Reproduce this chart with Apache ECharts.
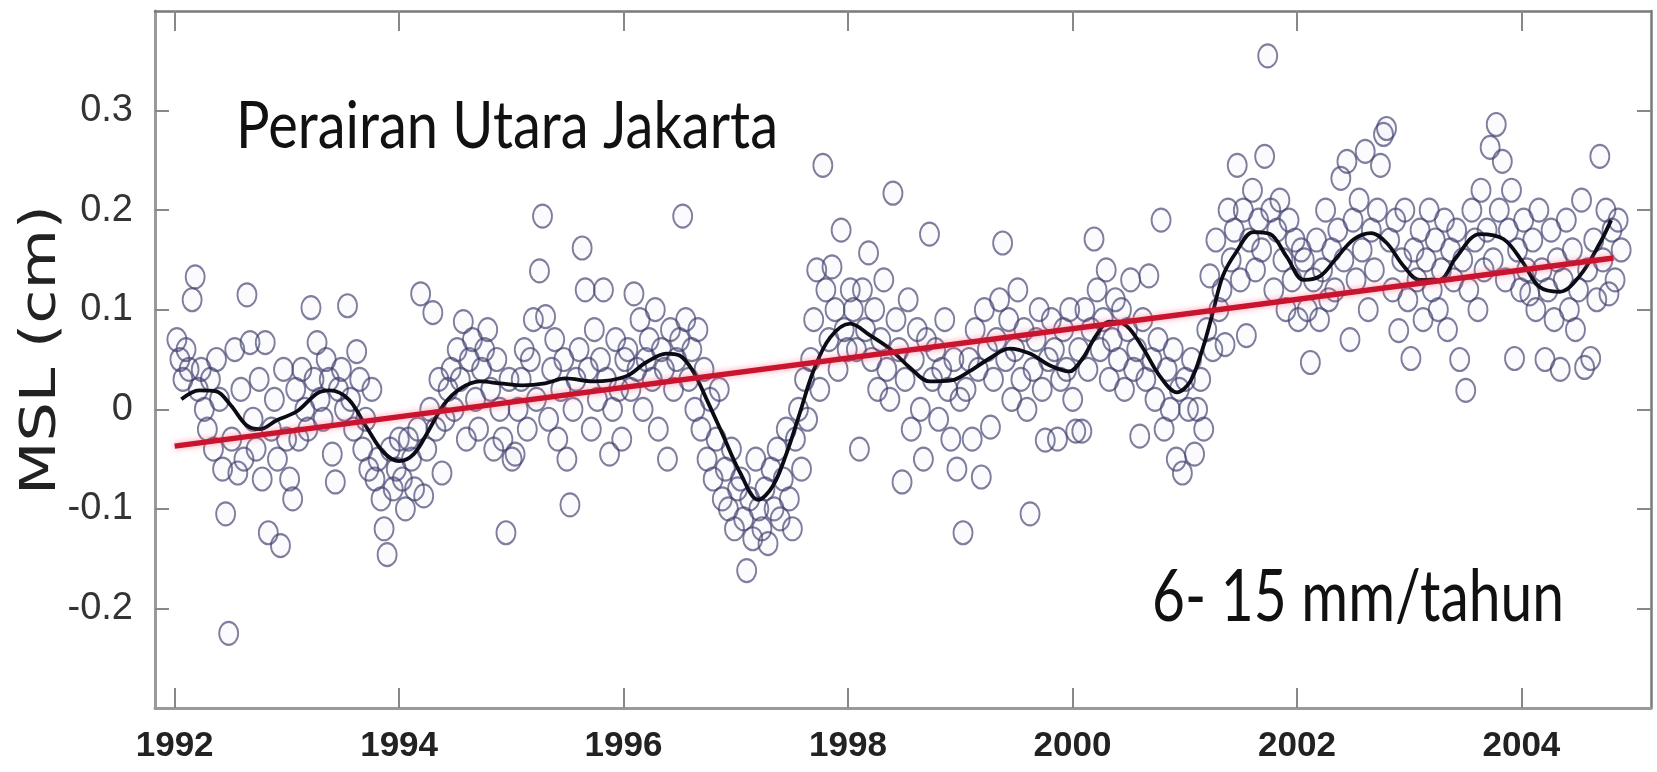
<!DOCTYPE html>
<html>
<head>
<meta charset="utf-8">
<title>MSL Perairan Utara Jakarta</title>
<script src="https://cdn.jsdelivr.net/npm/echarts@6/dist/echarts.min.js"></script>
<style>
  html, body { margin: 0; padding: 0; background: #fff; }
  #chart { width: 1657px; height: 772px; }
</style>
</head>
<body>
<div id="chart"></div>
<script>
// altimetry cycles, ~9.92 days apart
const cycleStart = 1992.02
const cycleStep = 0.02715

// MSL per cycle (one row ~ one year)
const mslValues = [
  0.07, 0.05, 0.03, 0.06, 0.04, 0.11, 0.133, 0.02, 0.04, 0.0, -0.02, 0.03, -0.04, 0.05, 0.01, -0.06, -0.105, -0.225, -0.03, 0.06, -0.064, 0.02, -0.05, 0.115, 0.067, -0.01, -0.04, 0.03, -0.07, 0.067, -0.124, -0.02, 0.01, -0.05, -0.137, 0.04, -0.03,
  -0.07, -0.09, 0.02, -0.03, 0.04, 0.0, -0.02, 0.102, 0.03, 0.067, 0.01, -0.01, 0.05, 0.03, -0.045, -0.073, 0.02, 0.04, 0.0, 0.104, 0.01, -0.02, 0.058, 0.03, -0.04, -0.01, -0.06, 0.02, -0.07, -0.05, -0.09, -0.12, -0.146, -0.04, -0.08, -0.06, -0.03,
  -0.07, -0.1, -0.03, -0.05, -0.08, -0.02, 0.116, -0.087, -0.04, 0.0, 0.097, -0.02, 0.03, -0.064, -0.01, 0.02, 0.04, 0.0, 0.06, 0.03, 0.088, -0.03, 0.05, 0.07, 0.01, -0.02, 0.04, 0.06, 0.08, 0.02, -0.04, 0.05, 0.0, -0.03, -0.124, 0.03, -0.05,
  -0.045, 0.0, 0.03, 0.06, -0.02, 0.05, 0.09, 0.01, 0.139, 0.194, 0.093, -0.01, 0.04, 0.07, -0.03, 0.02, 0.05, -0.05, -0.096, 0.0, 0.03, 0.06, 0.162, 0.12, 0.04, -0.02, 0.08, 0.01, 0.05, 0.12, 0.03, -0.045, 0.0, 0.07, 0.02, -0.03, 0.05,
  0.06, 0.02, 0.116, 0.04, 0.09, 0.0, 0.05, 0.07, 0.03, 0.1, -0.02, 0.06, 0.04, -0.05, 0.08, 0.02, 0.05, 0.07, 0.194, 0.09, 0.03, 0.06, 0.0, 0.08, -0.02, 0.04, -0.05, 0.01, -0.07, -0.03, 0.02, -0.09, -0.06, -0.1, -0.04, -0.12, -0.08,
  -0.07, -0.11, -0.162, -0.09, -0.13, -0.05, -0.1, -0.12, -0.08, -0.135, -0.06, -0.1, -0.04, -0.11, -0.07, -0.02, -0.09, -0.12, -0.03, 0.0, -0.06, 0.03, -0.01, 0.05, 0.09, 0.14, 0.02, 0.245, 0.12, 0.07, 0.143, 0.1, 0.04, 0.18, 0.08, 0.06, 0.12,
  0.1, 0.06, -0.04, 0.12, 0.08, 0.157, 0.05, 0.1, 0.02, 0.07, 0.13, 0.04, 0.01, 0.217, 0.09, 0.06, -0.073, 0.03, 0.11, -0.02, 0.05, 0.08, 0.0, -0.05, 0.07, 0.176, 0.03, 0.06, -0.01, 0.04, 0.09, 0.02, -0.03, 0.05, -0.06, 0.01, -0.124,
  0.02, 0.05, -0.03, 0.08, 0.04, -0.068, 0.1, 0.06, -0.018, 0.03, 0.07, 0.11, 0.167, 0.05, 0.09, 0.01, 0.06, 0.12, 0.03, 0.08, 0.0, -0.105, 0.04, 0.07, 0.1, 0.02, -0.031, 0.05, 0.09, 0.06, -0.03, 0.03, 0.08, 0.04, 0.1, 0.01, -0.022,
  0.06, -0.022, 0.1, 0.04, 0.08, 0.171, 0.12, 0.06, 0.09, 0.14, 0.03, 0.07, 0.11, 0.05, 0.1, 0.02, 0.08, 0.13, 0.04, 0.06, -0.027, 0.09, 0.03, 0.134, 0.05, 0.01, 0.07, 0.19, -0.02, 0.04, 0.0, 0.06, -0.05, 0.02, -0.064, 0.03, 0.0,
  0.05, -0.045, 0.0, 0.03, -0.02, 0.08, 0.134, 0.06, 0.17, 0.1, 0.12, 0.065, 0.2, 0.15, 0.18, 0.245, 0.13, 0.2, 0.074, 0.17, 0.22, 0.14, 0.19, 0.16, 0.254, 0.355, 0.2, 0.12, 0.18, 0.21, 0.15, 0.1, 0.19, 0.13, 0.17, 0.09, 0.16,
  0.15, 0.1, 0.047, 0.13, 0.17, 0.09, 0.14, 0.2, 0.11, 0.16, 0.12, 0.18, 0.232, 0.15, 0.249, 0.07, 0.19, 0.13, 0.21, 0.16, 0.259, 0.1, 0.18, 0.14, 0.2, 0.245, 0.276, 0.282, 0.17, 0.12, 0.19, 0.079, 0.15, 0.2, 0.11, 0.051, 0.16,
  0.13, 0.18, 0.09, 0.15, 0.2, 0.12, 0.17, 0.1, 0.14, 0.19, 0.08, 0.16, 0.13, 0.18, 0.05, 0.15, 0.019, 0.12, 0.2, 0.17, 0.1, 0.22, 0.14, 0.18, 0.263, 0.15, 0.286, 0.2, 0.249, 0.13, 0.18, 0.22, 0.051, 0.16, 0.12, 0.19, 0.14,
  0.116, 0.17, 0.1, 0.2, 0.14, 0.05, 0.12, 0.18, 0.09, 0.15, 0.04, 0.13, 0.19, 0.1, 0.16, 0.08, 0.12, 0.21, 0.042, 0.14, 0.051, 0.17, 0.11, 0.254, 0.15, 0.2, 0.116, 0.18, 0.13, 0.19, 0.16
]

// low-pass filtered curve (black)
const smoothX = [1992.06, 1992.22, 1992.37, 1992.50, 1992.64, 1992.76, 1992.91, 1993.09, 1993.27, 1993.38, 1993.55, 1993.71, 1993.86, 1994.00, 1994.13, 1994.26, 1994.40, 1994.55, 1994.72, 1994.90, 1995.10, 1995.30, 1995.48, 1995.73, 1996.02, 1996.20, 1996.38, 1996.50, 1996.62, 1996.74, 1996.89, 1997.04, 1997.20, 1997.33, 1997.45, 1997.57, 1997.69, 1997.84, 1998.02, 1998.20, 1998.37, 1998.55, 1998.73, 1998.92, 1999.08, 1999.26, 1999.44, 1999.62, 1999.80, 1999.97, 2000.09, 2000.21, 2000.33, 2000.48, 2000.63, 2000.78, 2000.93, 2001.05, 2001.16, 2001.25, 2001.34, 2001.46, 2001.61, 2001.76, 2001.91, 2002.06, 2002.21, 2002.36, 2002.51, 2002.66, 2002.80, 2002.95, 2003.09, 2003.27, 2003.42, 2003.63, 2003.84, 2004.01, 2004.16, 2004.34, 2004.52, 2004.70, 2004.80]
const smoothY = [0.010, 0.019, 0.018, 0.004, -0.016, -0.020, -0.011, -0.002, 0.016, 0.019, 0.010, -0.018, -0.043, -0.052, -0.045, -0.022, 0.005, 0.021, 0.028, 0.026, 0.024, 0.026, 0.031, 0.028, 0.033, 0.047, 0.056, 0.054, 0.038, 0.010, -0.027, -0.064, -0.091, -0.077, -0.045, -0.004, 0.038, 0.072, 0.086, 0.074, 0.061, 0.042, 0.028, 0.029, 0.038, 0.051, 0.061, 0.056, 0.044, 0.038, 0.051, 0.074, 0.088, 0.084, 0.061, 0.033, 0.017, 0.028, 0.061, 0.097, 0.134, 0.158, 0.178, 0.176, 0.153, 0.130, 0.134, 0.153, 0.171, 0.177, 0.167, 0.144, 0.130, 0.130, 0.153, 0.176, 0.171, 0.148, 0.123, 0.118, 0.134, 0.167, 0.190]

// linear trend (red)
const trendX = [1992.0, 2004.82]
const trendY = [-0.037, 0.152]

const xTicks = [1992, 1994, 1996, 1998, 2000, 2002, 2004]
const yTicks = [-0.2, -0.1, 0, 0.1, 0.2, 0.3]

const noteFont = 'Lato, "Liberation Sans", sans-serif'
const nameFont = '"DejaVu Sans", sans-serif'

// squeeze or stretch a text to the width it takes in the figure
function fitScale(text, size, family, width) {
  const ctx = document.createElement('canvas').getContext('2d')
  ctx.font = size + 'px ' + family
  return width / ctx.measureText(text).width
}

const chart = echarts.init(document.getElementById('chart'))

const scatterData = mslValues.map((v, i) => [cycleStart + i * cycleStep, v])
const smoothData = smoothX.map((x, i) => [x, smoothY[i]])
const trendData = trendX.map((x, i) => [x, trendY[i]])

const option = {
  animation: false,
  backgroundColor: '#fff',
  graphic: [
    {
      type: 'text',
      x: 236,
      y: 94,
      scaleX: fitScale('Perairan Utara Jakarta', 66, noteFont, 542),
      z: 10,
      style: {
        text: 'Perairan Utara Jakarta',
        fontFamily: noteFont,
        fontSize: 66,
        fill: '#111',
        verticalAlign: 'top'
      }
    },
    {
      type: 'text',
      x: 1152,
      y: 563,
      scaleX: fitScale('6- 15 mm/tahun', 71, noteFont, 412),
      z: 10,
      style: {
        text: '6- 15 mm/tahun',
        fontFamily: noteFont,
        fontSize: 71,
        fill: '#111',
        verticalAlign: 'top'
      }
    },
    {
      // y-axis title, reads bottom to top
      type: 'text',
      x: 42,
      y: 350,
      rotation: Math.PI / 2,
      scaleX: fitScale('MSL (cm)', 50, nameFont, 290),
      z: 10,
      style: {
        text: 'MSL (cm)',
        fontFamily: nameFont,
        fontSize: 50,
        fill: '#222',
        align: 'center',
        verticalAlign: 'middle'
      }
    }
  ],
  grid: {
    left: 155,
    right: 6,
    top: 11,
    bottom: 64,
    containLabel: false,
    outerBoundsMode: 'none'
  },
  xAxis: [
    {
      type: 'value',
      min: 1991.825,
      max: 2005.155,
      axisLine: { show: true, onZero: false, lineStyle: { color: '#9a9a9a', width: 3 } },
      axisTick: {
        inside: true,
        length: 20,
        customValues: xTicks,
        lineStyle: { color: '#888', width: 2 }
      },
      axisLabel: {
        customValues: xTicks,
        formatter: v => String(v),
        margin: 21,
        fontFamily: '"Liberation Sans", Arial, sans-serif',
        fontWeight: 'bold',
        fontSize: 35,
        color: '#222'
      },
      splitLine: { show: false }
    },
    {
      type: 'value',
      position: 'top',
      min: 1991.825,
      max: 2005.155,
      axisLine: { show: true, onZero: false, lineStyle: { color: '#7a7a7a', width: 2.5 } },
      axisTick: {
        inside: true,
        length: 20,
        customValues: xTicks,
        lineStyle: { color: '#888', width: 2 }
      },
      axisLabel: { show: false },
      splitLine: { show: false }
    }
  ],
  yAxis: [
    {
      type: 'value',
      min: -0.3,
      max: 0.4,
      axisLine: { show: true, onZero: false, lineStyle: { color: '#9a9a9a', width: 3 } },
      axisTick: {
        inside: true,
        length: 14,
        customValues: yTicks,
        lineStyle: { color: '#888', width: 2 }
      },
      axisLabel: {
        customValues: yTicks,
        margin: 22,
        fontFamily: '"Liberation Sans", Arial, sans-serif',
        fontSize: 38,
        color: '#333'
      },
      splitLine: { show: false }
    },
    {
      type: 'value',
      position: 'right',
      min: -0.3,
      max: 0.4,
      axisLine: { show: true, onZero: false, lineStyle: { color: '#7a7a7a', width: 2.5 } },
      axisTick: {
        inside: true,
        length: 14,
        customValues: yTicks,
        lineStyle: { color: '#888', width: 2 }
      },
      axisLabel: { show: false },
      splitLine: { show: false }
    }
  ],
  series: [
    {
      name: 'MSL',
      type: 'scatter',
      xAxisIndex: 0,
      yAxisIndex: 0,
      symbol: 'path://M0,12 A10,12 0 1,1 20,12 A10,12 0 1,1 0,12 Z',
      symbolSize: [19, 23],
      itemStyle: {
        color: 'rgba(120,120,205,0.04)',
        borderColor: 'rgba(62,62,110,0.84)',
        borderWidth: 2
      },
      data: scatterData,
      z: 2
    },
    {
      name: 'Filter',
      type: 'line',
      xAxisIndex: 0,
      yAxisIndex: 0,
      smooth: 0.35,
      showSymbol: false,
      lineStyle: { color: '#0b0b16', width: 3.8 },
      data: smoothData,
      z: 3
    },
    {
      name: 'Trend',
      type: 'line',
      xAxisIndex: 0,
      yAxisIndex: 0,
      showSymbol: false,
      lineStyle: {
        color: '#c8142f',
        width: 5.5,
        shadowColor: 'rgba(255,90,120,0.6)',
        shadowBlur: 6
      },
      data: trendData,
      z: 4
    }
  ]
}

chart.setOption(option)
</script>
</body>
</html>
